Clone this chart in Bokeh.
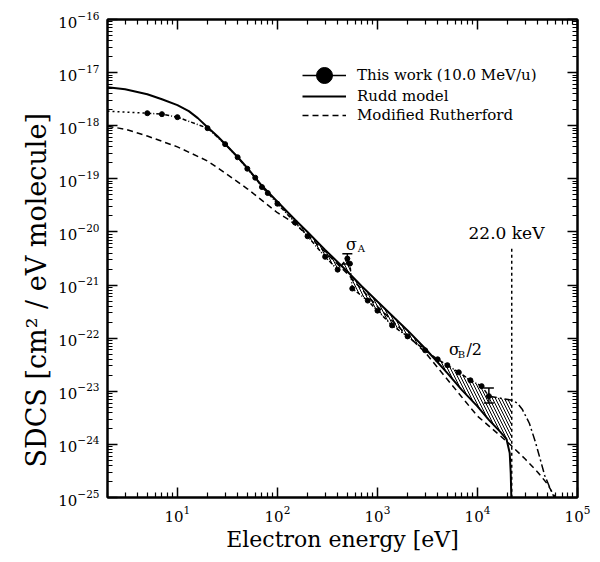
import numpy as np
from bokeh.plotting import figure
from bokeh.models import (LogAxis, FixedTicker, Range1d, Legend, LegendItem, Title,
                          ColumnDataSource, Whisker, TeeHead)
from bokeh.embed import file_html
from bokeh.resources import INLINE
from bokeh.core.properties import value

# ---------------- data ----------------
# Rudd model
rudd_E = [2, 3, 5, 7, 10, 13, 16, 20, 25, 30, 40, 50, 70, 100, 150, 200, 300, 500, 700,
          1000, 1500, 2000, 3000, 5000, 7000, 10000, 13000, 17000, 19500, 21000, 21500,
          22000]
rudd_sdcs = [5.3e-18, 4.86e-18, 3.92e-18, 3.15e-18, 2.44e-18, 1.88e-18, 1.39e-18,
             9.4e-19, 6.4e-19, 4.52e-19, 2.58e-19, 1.6e-19, 7.4e-20, 3.7e-20, 1.7e-20,
             1.0e-20, 4.6e-21, 1.8e-21, 9.4e-22, 4.9e-22, 2.35e-22, 1.4e-22, 6.4e-23,
             2.2e-23, 1.05e-23, 5.2e-24, 2.9e-24, 1.7e-24, 1.26e-24, 6.9e-25, 2.9e-25,
             5e-26]

# Modified Rutherford
mr_E = [2, 3, 5, 10, 20, 30, 50, 100, 130, 200, 500, 1000, 3000, 10000, 17000, 22000,
        30000, 40000, 50000, 60000, 65000]
mr_sdcs = [9.8e-19, 8.6e-19, 6.4e-19, 4.0e-19, 2.17e-19, 1.29e-19, 6.5e-20, 2.3e-20,
           1.7e-20, 8.9e-21, 1.64e-21, 3.95e-22, 5.4e-23, 3.4e-24, 1.44e-24, 9.3e-25,
           5.3e-25, 3.0e-25, 1.8e-25, 1.0e-25, 8e-26]

# This work (10.0 MeV/u)
work_E = [5, 7, 10, 20, 30, 40, 50, 60, 70, 80, 100, 150, 200, 300, 400, 500, 530, 560,
          800, 1000, 1400, 2000, 3000, 4000, 5000, 6500, 8500, 11000, 13000]
work_sdcs = [1.72e-18, 1.65e-18, 1.45e-18, 9.0e-19, 4.5e-19, 2.55e-19, 1.55e-19, 1.05e-19,
             7.0e-20, 5.4e-20, 3.4e-20, 1.5e-20, 8.3e-21, 3.4e-21, 1.95e-21, 3.15e-21,
             2.53e-21, 8.6e-22, 5.1e-22, 3.3e-22, 1.74e-22, 1.08e-22, 5.9e-23, 4.0e-23,
             3.1e-23, 2.28e-23, 1.61e-23, 1.25e-23, 8.1e-24]

# low-energy dotted extrapolation of this work
low_ext_E = [2, 5]
low_ext_sdcs = [1.88e-18, 1.72e-18]

# high-energy dash-dot extrapolation
high_ext_E = [13000, 22000, 25000, 28000, 33000, 38000, 42000, 47000, 54000, 60000]
high_ext_sdcs = [8.1e-24, 6.8e-24, 6.0e-24, 4.6e-24, 2.5e-24, 1.1e-24, 5.6e-25,
                 2.6e-25, 1.4e-25, 9e-26]

# error bars
err_E = [500, 13000]
err_hi = [3.9e-21, 1.15e-23]
err_lo = [2.5e-21, 6.0e-24]

# kinematic cut-off
cut_E = 22000
cut_top = 4.8e-21
cut_bottom = 1e-26
hatch_edge_hi = 6.8e-24
hatch_edge_lo = 1.15e-24

x_major = [10, 100, 1000, 10000, 100000]
y_major = [10.0 ** k for k in range(-25, -15)]
x_minor = [m * 10.0 ** k for k in range(0, 5) for m in range(2, 10)]
y_minor = [m * 10.0 ** k for k in range(-25, -16) for m in range(2, 10)]

FONT = "DejaVu Serif"

p = figure(width=592, height=554, x_axis_type="log", y_axis_type="log",
           x_range=Range1d(2, 1e5), y_range=Range1d(1e-25, 1e-16),
           output_backend="svg", toolbar_location=None,
           min_border_left=107, min_border_right=15, min_border_top=19,
           min_border_bottom=55)
p.grid.visible = False
p.outline_line_color = "black"
p.outline_line_width = 2


def style(ax, ticks, minors, labels=True):
    ax.ticker = FixedTicker(ticks=ticks, minor_ticks=minors)
    ax.major_tick_in = 10
    ax.major_tick_out = 0
    ax.minor_tick_in = 5
    ax.minor_tick_out = 0
    ax.axis_line_width = 2
    ax.major_tick_line_width = 1.5
    ax.minor_tick_line_width = 1.2
    ax.major_label_text_font = FONT
    ax.major_label_text_color = "black"
    if labels:
        ax.major_label_text_font_size = "15px"
    else:
        ax.major_label_text_font_size = "1px"
        ax.major_label_text_alpha = 0
        ax.major_label_standoff = 0


style(p.xaxis[0], x_major, x_minor)
style(p.yaxis[0], y_major, y_minor)
p.xaxis[0].major_label_standoff = 8
p.yaxis[0].major_label_standoff = 8
p.xaxis[0].axis_label = "Electron energy [eV]"
p.xaxis[0].axis_label_text_font = FONT
p.xaxis[0].axis_label_text_font_size = "22px"
p.xaxis[0].axis_label_text_font_style = "normal"
p.xaxis[0].axis_label_text_color = "black"
p.xaxis[0].axis_label_standoff = 2

top = LogAxis()
style(top, x_major, x_minor, labels=False)
p.add_layout(top, "above")
right = LogAxis()
style(right, y_major, y_minor, labels=False)
p.add_layout(right, "right")

ylab = Title(text="SDCS [cm\u00b2 / eV molecule]", align="left", offset=30,
             vertical_align="bottom", text_font=FONT, text_font_size="27px",
             text_font_style="normal", text_color="black", standoff=8)
p.add_layout(ylab, "left")

# hatched difference region (between this work and Rudd model)
i0 = next(i for i, e in enumerate(work_E) if e >= 100)
j0 = next(i for i, e in enumerate(rudd_E) if e >= 100)
j1 = next(i for i, e in enumerate(rudd_E) if e >= 19500)
hx = work_E[i0:] + [cut_E, cut_E] + rudd_E[j0:j1 + 1][::-1]
hy = work_sdcs[i0:] + [hatch_edge_hi, hatch_edge_lo] + rudd_sdcs[j0:j1 + 1][::-1]
p.patch(hx, hy, fill_color=None, line_color=None, hatch_pattern="\\",
        hatch_color="black", hatch_scale=6, hatch_weight=1)

# curves
mr_r = p.line(mr_E, mr_sdcs, line_color="black", line_width=1.5, line_dash="6 4")
rudd_r = p.line(rudd_E, rudd_sdcs, line_color="black", line_width=2)
p.line(low_ext_E, low_ext_sdcs, line_color="black", line_width=1.5, line_dash="2 3")
p.line(work_E, work_sdcs, line_color="black", line_width=1.5, line_dash="4 2 1 2")
p.line(high_ext_E, high_ext_sdcs, line_color="black", line_width=1.5, line_dash="8 3 2 3")
p.scatter(work_E, work_sdcs, size=5, color="black")
p.line([cut_E, cut_E], [cut_top, cut_bottom], line_color="black", line_width=1.5,
       line_dash="3 3")

err_src = ColumnDataSource(dict(base=err_E, upper=err_hi, lower=err_lo))
p.add_layout(Whisker(source=err_src, base="base", upper="upper", lower="lower",
                     dimension="height", line_width=1.5, line_color="black",
                     upper_head=TeeHead(size=10, line_width=1.5),
                     lower_head=TeeHead(size=10, line_width=1.5)))

# annotations
p.text(x=[19500], y=[9.7e-21], text=["22.0 keV"], text_font=value(FONT),
       text_font_size="17px", text_align="center", text_baseline="middle")
p.text(x=[550, 5890], y=[5.75e-21, 6.2e-23], text=["\u03c3", "\u03c3"],
       text_font=value(FONT), text_font_size="16px", text_align="center",
       text_baseline="middle")
p.text(x=[692, 6918], y=[4.84e-21, 5.0e-23], text=["A", "B"], text_font=value(FONT),
       text_font_size="10px", text_align="center", text_baseline="middle")
p.text(x=[7762], y=[6.2e-23], text=["/2"], text_font=value(FONT),
       text_font_size="16px", text_align="left", text_baseline="middle")

# legend (legend-only renderers: a single NaN point, nothing drawn in the frame)
leg_src = ColumnDataSource(dict(x=[np.nan], y=[np.nan]))
leg_line = p.line("x", "y", source=leg_src, line_color="black", line_width=1.5)
leg_dot = p.scatter("x", "y", source=leg_src, size=16, color="black")

common = dict(border_line_color=None, background_fill_alpha=0,
              label_text_font=FONT, label_text_font_size="15px",
              label_text_color="black", glyph_width=44, padding=0, margin=0,
              label_standoff=11)
legend1 = Legend(items=[LegendItem(label="This work (10.0 MeV/u)",
                                   renderers=[leg_line, leg_dot])],
                 location=(195, 402), glyph_height=40, label_height=40, **common)
legend2 = Legend(items=[LegendItem(label="Rudd model", renderers=[rudd_r]),
                        LegendItem(label="Modified Rutherford", renderers=[mr_r])],
                 location=(195, 373), glyph_height=16, label_height=16, spacing=1,
                 **common)
p.add_layout(legend1)
p.add_layout(legend2)

open("out.html", "w").write(file_html(p, INLINE))
